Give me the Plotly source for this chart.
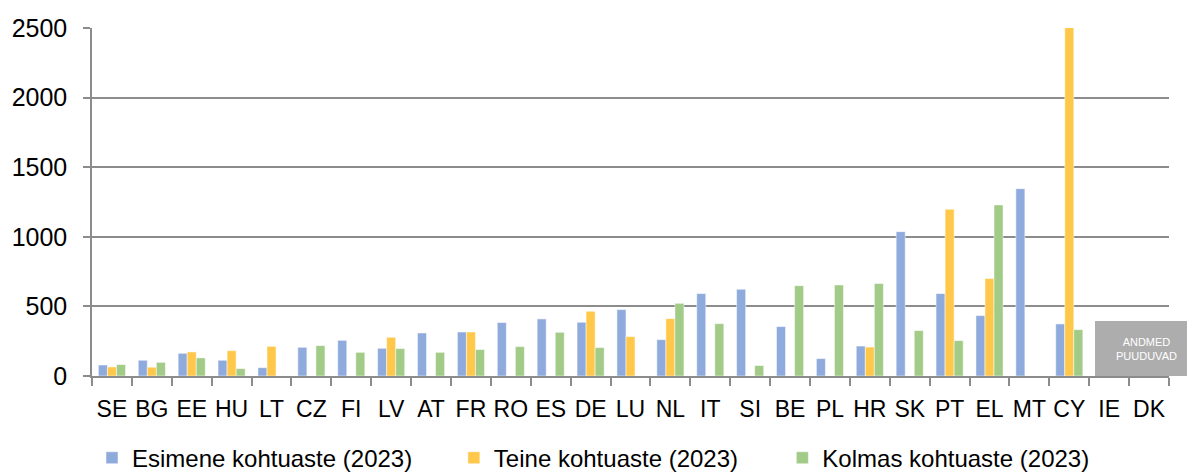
import plotly.graph_objects as go

categories = ["SE", "BG", "EE", "HU", "LT", "CZ", "FI", "LV", "AT", "FR", "RO", "ES", "DE", "LU",
              "NL", "IT", "SI", "BE", "PL", "HR", "SK", "PT", "EL", "MT", "CY", "IE", "DK"]

esimene = [79, 113, 163, 113, 60, 206, 256, 199, 309, 316, 384, 410, 386, 477,
           261, 592, 623, 355, 125, 215, 1037, 592, 434, 1346, 374, None, None]
teine = [65, 63, 173, 182, 213, None, None, 278, None, 316, None, None, 465, 283,
         412, None, None, None, None, 208, None, 1198, 700, None, 2600, None, None]
kolmas = [82, 98, 130, 53, None, 218, 170, 197, 170, 190, 211, 314, 204, None,
          522, 376, 75, 649, 654, 664, 326, 254, 1229, None, 333, None, None]

series_names = ["Esimene kohtuaste (2023)", "Teine kohtuaste (2023)", "Kolmas kohtuaste (2023)"]
colors = ["#8FAADC", "#FFC84B", "#A1CB86"]
y_ticks = [0, 500, 1000, 1500, 2000, 2500]

FONT = "Liberation Sans, Arial, sans-serif"
GRID = "#8C8C8C"

fig = go.Figure()
legends = ["legend", "legend2", "legend3"]
for vals, name, col, lg in zip([esimene, teine, kolmas], series_names, colors, legends):
    fig.add_trace(go.Bar(x=categories, y=vals, name=name, marker_color=col,
                         marker_line_color="white", marker_line_width=0.5,
                         legend=lg, showlegend=True))

legend_common = dict(orientation="h", yanchor="middle", xanchor="left", y=-0.236,
                     font=dict(family=FONT, size=24, color="#000000"),
                     bgcolor="rgba(0,0,0,0)", itemwidth=30)

fig.update_layout(
    width=1187, height=474,
    margin=dict(l=92, r=18, t=28, b=98, autoexpand=False),
    paper_bgcolor="white", plot_bgcolor="white",
    showlegend=True,
    barmode="group", bargap=0.32, bargroupgap=0,
    font=dict(family=FONT, size=23, color="#000000"),
    legend=dict(legend_common, x=0.0),
    legend2=dict(legend_common, x=0.336),
    legend3=dict(legend_common, x=0.641),
    xaxis=dict(
        type="category", showline=True, linecolor=GRID, linewidth=1.5,
        ticks="outside", tickson="boundaries", ticklen=8, tickcolor=GRID, tickwidth=1.5,
        showgrid=False, tickfont=dict(family=FONT, size=23, color="#000000"),
        tickangle=0, automargin=False, ticklabelstandoff=12,
    ),
    yaxis=dict(
        range=[0, 2500], tickvals=y_ticks, showgrid=True, gridcolor=GRID, gridwidth=1.5,
        showline=True, linecolor=GRID, linewidth=1.5, ticks="outside", ticklen=7,
        tickcolor=GRID, tickwidth=1.5, zeroline=False, automargin=False,
        tickfont=dict(family=FONT, size=25, color="#000000"),
        ticklabelstandoff=11,
    ),
)

# "no data" box for IE and DK
fig.add_shape(type="rect", xref="paper", yref="paper", x0=0.9313, x1=1.0167, y0=0, y1=0.158,
              fillcolor="#ADADAD", line=dict(width=0), layer="above")
fig.add_annotation(xref="paper", yref="paper", x=0.979, y=0.079, text="ANDMED<br>PUUDUVAD",
                   showarrow=False, font=dict(family=FONT, size=11, color="white"),
                   align="center", xanchor="center", yanchor="middle")

fig.write_html("out.html", config={"displayModeBar": False},
               post_script="document.body.style.margin='0px';")
